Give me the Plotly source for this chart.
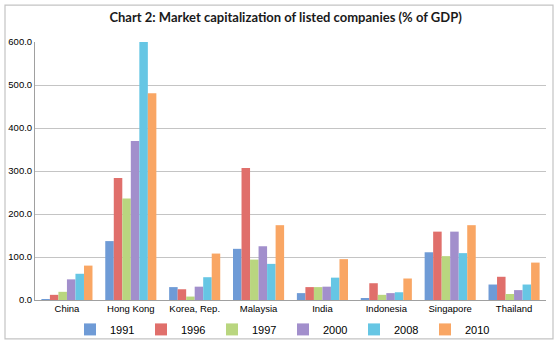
import plotly.graph_objects as go

countries = ["China", "Hong Kong", "Korea, Rep.", "Malaysia", "India", "Indonesia", "Singapore", "Thailand"]
years = ["1991", "1996", "1997", "2000", "2008", "2010"]

v1991 = [0.5, 137, 30, 119, 16, 4, 111, 36]
v1996 = [12, 284, 25, 307, 30, 39, 159, 54]
v1997 = [19, 236, 8, 94, 30, 12, 102, 14]
v2000 = [48, 370, 31, 125, 31, 16, 159, 23]
v2008 = [61, 606, 53, 84, 52, 18, 109, 36]
v2010 = [80, 481, 108, 174, 95, 50, 174, 87]

series = [v1991, v1996, v1997, v2000, v2008, v2010]
colors = ["#6f9bd6", "#e06f6b", "#b9d67f", "#a28fcc", "#66c6e4", "#f9a664"]

fig = go.Figure()
for name, vals, col in zip(years, series, colors):
    fig.add_trace(go.Bar(x=countries, y=vals, name=name,
                         marker=dict(color=col, line=dict(width=0))))

fig.update_layout(
    width=560, height=344,
    margin=dict(l=35, r=14, t=42, b=44, autoexpand=False),
    paper_bgcolor="white", plot_bgcolor="white",
    barmode="group", bargap=0.2, bargroupgap=0,
    font=dict(family="Liberation Sans", size=10, color="black"),
    title=dict(text="<b>Chart 2: Market capitalization of listed companies (% of GDP)</b>",
               x=0.51, xanchor="center", y=0.948, yanchor="middle",
               font=dict(family="Lato", size=13, color="#1a1a1a")),
    legend=dict(orientation="h",
                x=0.0685, xanchor="left", y=-0.114, yanchor="middle",
                entrywidth=26, entrywidthmode="pixels", itemwidth=30,
                font=dict(family="Liberation Sans", size=11, color="black"),
                bgcolor="rgba(0,0,0,0)", borderwidth=0),
    showlegend=True,
)
fig.update_yaxes(range=[0, 600], dtick=100, tickformat=".1f",
                 showgrid=True, gridcolor="#c4c4c4", gridwidth=1,
                 showline=True, linecolor="#a0a0a0", linewidth=1,
                 zeroline=False, ticks="", tickfont=dict(size=9.5),
                 fixedrange=True)
fig.update_xaxes(showline=True, linecolor="#a0a0a0", linewidth=1,
                 ticks="", tickfont=dict(size=9.5), fixedrange=True)

fig.add_shape(type="rect", xref="paper", yref="paper",
              x0=-0.0587, x1=1.0137, y0=-0.151, y1=1.143,
              line=dict(color="#c4c4c4", width=1.2), layer="below")

fig.write_html("out.html")
